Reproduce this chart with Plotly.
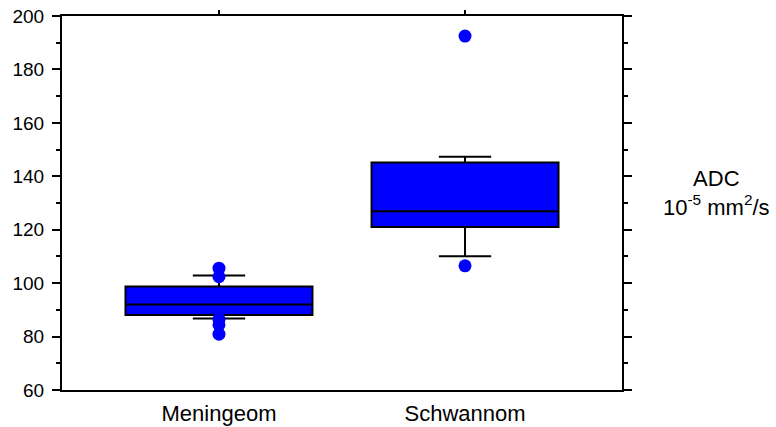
"""ADC-Werte Meningeom vs. Schwannom als Boxplot (Plotly)."""
import plotly.graph_objects as go

_FONT = "Liberation Sans, Arial, sans-serif"
_BLUE = "#0000FF"

# Kategorien und Boxplot-Kennwerte
groups = ["Meningeom", "Schwannom"]
q1 = [88.1, 121.0]
median = [92.0, 126.9]
q3 = [98.7, 145.2]
lower_whisker = [86.8, 110.1]
upper_whisker = [102.9, 147.3]

# Ausreißer je Gruppe
outliers_meningeom = [105.6, 102.4, 86.4, 84.4, 80.9]
outliers_schwannom = [192.5, 106.5]

y_ticks = [60, 80, 100, 120, 140, 160, 180, 200]

fig = go.Figure()

fig.add_trace(go.Box(
    x=groups,
    q1=q1, median=median, q3=q3,
    lowerfence=lower_whisker, upperfence=upper_whisker,
    fillcolor=_BLUE,
    line=dict(color="black", width=2),
    width=0.76,
    whiskerwidth=0.28,
    boxpoints=False,
    showlegend=False,
    hoverinfo="skip",
))

out_x = [groups[0]] * len(outliers_meningeom) + [groups[1]] * len(outliers_schwannom)
out_y = outliers_meningeom + outliers_schwannom
fig.add_trace(go.Scatter(
    x=out_x, y=out_y, mode="markers",
    marker=dict(color=_BLUE, size=13, line=dict(width=0)),
    showlegend=False, hoverinfo="skip",
))

# Hilfsachsen für die Ticks oben und rechts
fig.add_trace(go.Scatter(x=[0], y=[100], xaxis="x2", yaxis="y2",
                         mode="markers", marker=dict(opacity=0),
                         showlegend=False, hoverinfo="skip"))

x_range = [-0.638, 1.638]
axis_line = dict(showline=True, linecolor="black", linewidth=2, zeroline=False,
                 showgrid=False, automargin=False)

fig.update_layout(
    width=776, height=427,
    margin=dict(l=62, r=154, t=16, b=37),
    plot_bgcolor="white", paper_bgcolor="white",
    font=dict(family=_FONT, color="black"),
    xaxis=dict(
        type="category", categoryorder="array", categoryarray=groups,
        range=x_range, ticks="", tickfont=dict(size=22),
        ticklabelstandoff=3, **axis_line,
    ),
    xaxis2=dict(
        overlaying="x", side="top", anchor="y", range=x_range,
        tickvals=[0, 1], ticks="outside", ticklen=4, tickwidth=2,
        tickcolor="black", showticklabels=False, **axis_line,
    ),
    yaxis=dict(
        range=[60, 200], tickvals=y_ticks, ticks="outside", ticklen=8,
        tickwidth=2, tickcolor="black", tickfont=dict(size=19),
        ticklabelstandoff=4,
        minor=dict(dtick=10, ticks="outside", ticklen=4, tickwidth=2,
                   tickcolor="black"),
        **axis_line,
    ),
    yaxis2=dict(
        overlaying="y", side="right", anchor="x", range=[60, 200],
        tickvals=y_ticks, ticks="outside", ticklen=8, tickwidth=2,
        tickcolor="black", showticklabels=False,
        minor=dict(dtick=10, ticks="outside", ticklen=4, tickwidth=2,
                   tickcolor="black"),
        **axis_line,
    ),
    annotations=[dict(
        text="ADC<br>10<sup>-5</sup> mm<sup>2</sup>/s",
        xref="paper", yref="paper", x=1.1696, y=0.527,
        xanchor="center", yanchor="middle", showarrow=False,
        font=dict(size=22, family=_FONT),
    )],
)

fig.write_html(
    "out.html",
    config={"displayModeBar": False},
    post_script="document.body.style.margin='0';document.body.style.overflow='hidden';",
)
